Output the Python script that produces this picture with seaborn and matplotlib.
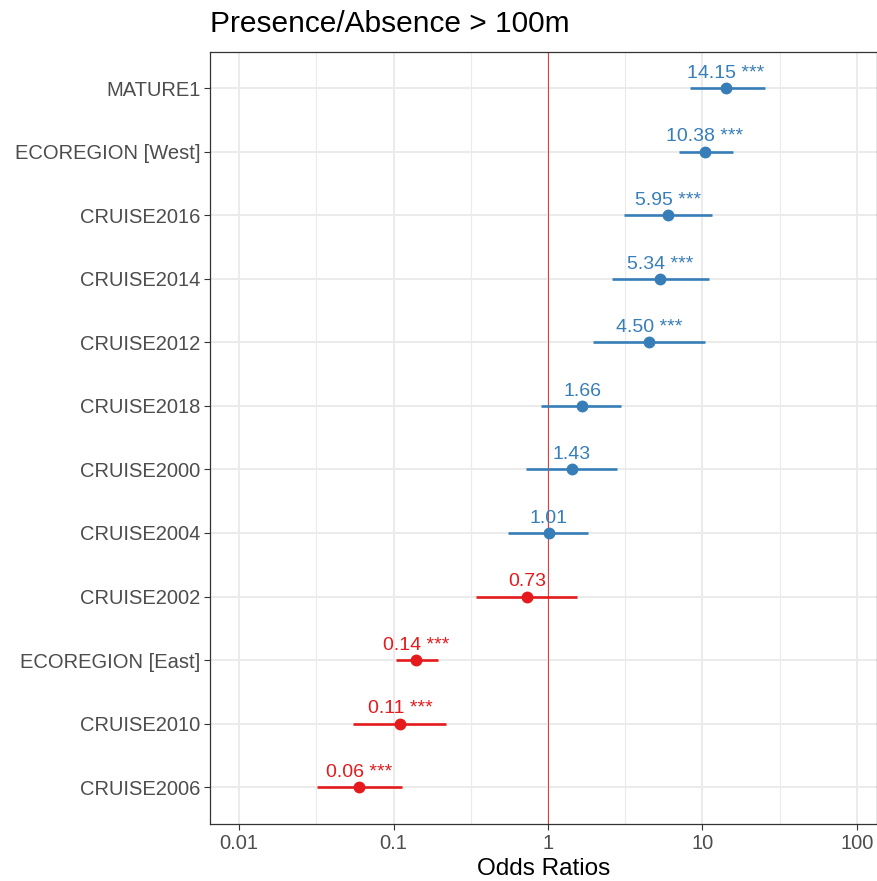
import matplotlib
matplotlib.use("Agg")
import matplotlib.pyplot as plt
import numpy as np
import pandas as pd
import seaborn as sns
from matplotlib.ticker import FixedLocator, NullFormatter

# ---- data ----
terms = ["MATURE1", "ECOREGION [West]", "CRUISE2016", "CRUISE2014",
         "CRUISE2012", "CRUISE2018", "CRUISE2000", "CRUISE2004",
         "CRUISE2002", "ECOREGION [East]", "CRUISE2010", "CRUISE2006"]
odds = [14.15, 10.38, 5.95, 5.34, 4.50, 1.66, 1.43, 1.01,
        0.73, 0.14, 0.11, 0.06]
ci_low = [8.3, 7.05, 3.1, 2.6, 1.96, 0.90, 0.72, 0.55,
          0.34, 0.104, 0.055, 0.032]
ci_high = [25.4, 15.7, 11.5, 11.0, 10.4, 2.96, 2.8, 1.82,
           1.54, 0.194, 0.219, 0.113]
stars = ["***", "***", "***", "***", "***", "", "", "",
         "", "***", "***", "***"]

BLUE = "#377EB8"
RED = "#E41A1C"

df = pd.DataFrame({"term": terms, "or": odds, "lo": ci_low,
                   "hi": ci_high, "p": stars})
df["dir"] = np.where(df["or"] > 1, "pos", "neg")
df["label"] = [f"{v:.2f} {s}".strip() for v, s in zip(df["or"], df["p"])]

sns.set_theme(style="white")
plt.rcParams["font.family"] = ["Liberation Sans", "DejaVu Sans"]

fig = plt.figure(figsize=(8.78, 8.81), dpi=100)
ax = fig.add_axes([0.2392, 0.0647, 0.7597, 0.8763])

pal = {"pos": BLUE, "neg": RED}
ypos = np.arange(len(df))
ax.hlines(ypos, df["lo"], df["hi"], colors=df["dir"].map(pal),
          linewidth=1.9, zorder=2)
sns.pointplot(data=df, x="or", y="term", hue="dir", palette=pal,
              order=terms, orient="h", linestyle="none", markersize=6.5,
              legend=False, native_scale=False, ax=ax, zorder=3)

ax.set_xscale("log")
ax.set_xlim(10 ** -2.188, 10 ** 2.13)
ax.set_ylim(len(df) - 1 + 0.58, -0.57)

# grid: major + minor (ggplot style)
major = [0.01, 0.1, 1, 10, 100]
minor = [10 ** e for e in (-2.5, -1.5, -0.5, 0.5, 1.5)]
ax.xaxis.set_major_locator(FixedLocator(major))
ax.xaxis.set_minor_locator(FixedLocator(minor))
ax.xaxis.set_minor_formatter(NullFormatter())
ax.set_xticklabels(["0.01", "0.1", "1", "10", "100"])
ax.grid(True, which="major", axis="both", color="#EBEBEB", linewidth=1.4)
ax.grid(True, which="minor", axis="x", color="#EBEBEB", linewidth=0.8)
ax.set_axisbelow(True)

ax.axvline(1, color=RED, linewidth=0.6, zorder=1)

for i, row in df.iterrows():
    ax.annotate(row["label"], (row["or"], i), xytext=(0, 4.5),
                textcoords="offset points", ha="center", va="bottom",
                fontsize=14, color=pal[row["dir"]])

ax.set_ylabel("")
ax.set_xlabel("Odds Ratios", fontsize=17.5, color="black", labelpad=3.5)
ax.tick_params(axis="both", which="major", length=4, width=0.8,
               color="#333333", labelcolor="#4D4D4D", labelsize=14.5,
               bottom=True, left=True, pad=3)
ax.tick_params(axis="x", which="minor", length=0)
for sp in ax.spines.values():
    sp.set_color("#333333")
    sp.set_linewidth(0.9)

fig.text(0.2392, 0.964, "Presence/Absence > 100m", fontsize=21.5,
         ha="left", va="baseline", color="black")

fig.savefig("out.png", dpi=100)
